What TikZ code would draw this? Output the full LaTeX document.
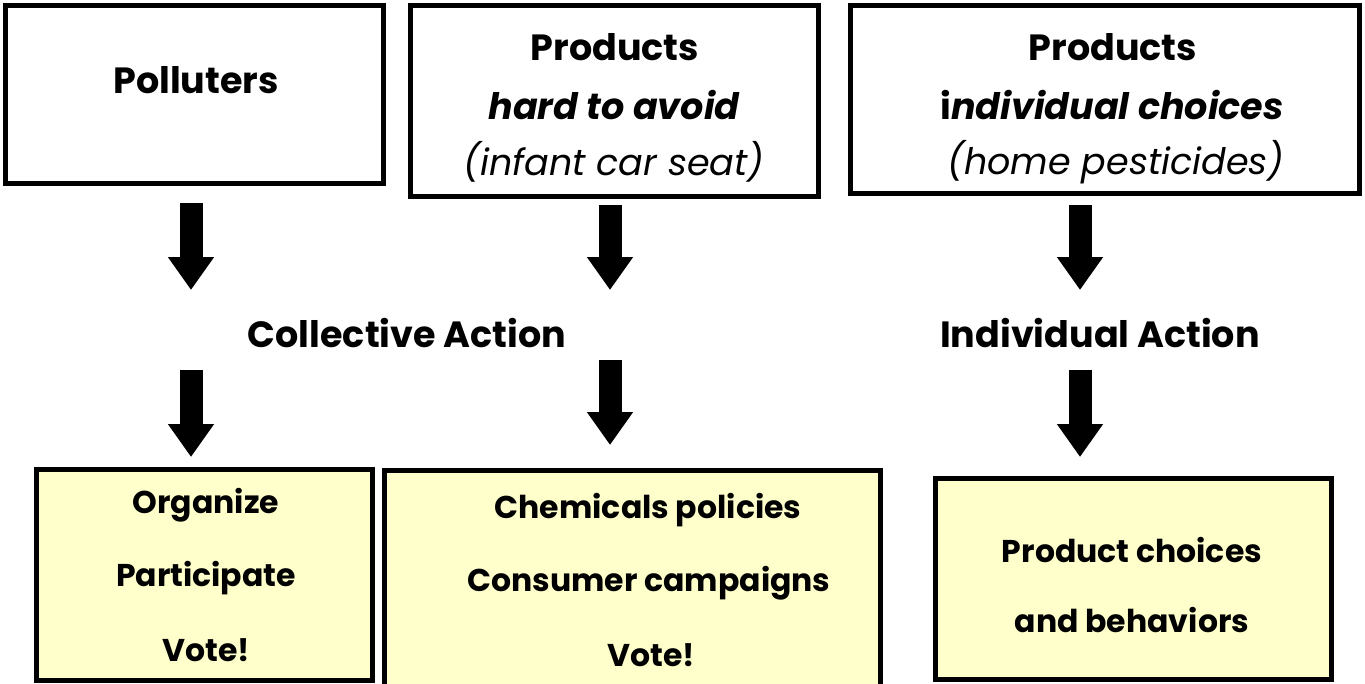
\documentclass[tikz,border=0pt]{standalone}
\usepackage{fontspec}
\setmainfont{Poppins}
\usetikzlibrary{arrows.meta}
\definecolor{paleyellow}{HTML}{FFFFCC}
\tikzset{
  topbox/.style={draw=black, line width=5pt, fill=white, inner sep=0pt},
  botbox/.style={draw=black, line width=5pt, fill=paleyellow, inner sep=0pt},
  bigtxt/.style={font=\fontsize{36.5}{40}\selectfont\bfseries, inner sep=0pt, anchor=center},
  boxtxt/.style={font=\fontsize{36.5}{40}\selectfont\itshape, inner sep=0pt, anchor=center},
  bottxt/.style={font=\fontsize{31.5}{36}\selectfont\bfseries, inner sep=0pt, anchor=center},
  blockarrow/.style={line width=23pt, -{Triangle[width=44pt,length=33pt]}}
}
\begin{document}
\begin{tikzpicture}[x=1pt,y=-1pt]
\useasboundingbox (0,0) rectangle (1365,683);
\begin{scope}
\clip (0,0) rectangle (1365,683);
% top boxes
\node[topbox, minimum width=378pt, minimum height=178pt] (polluters) at (194.5,94.5) {};
\node[topbox, minimum width=408pt, minimum height=191pt] (hard) at (614.5,101) {};
\node[topbox, minimum width=509pt, minimum height=188pt] (indiv) at (1105,99.5) {};
% bottom boxes
\node[botbox, minimum width=336pt, minimum height=211pt] (org) at (204.5,575) {};
\node[botbox, minimum width=496pt, minimum height=230pt] (chem) at (632.5,585.5) {};
\node[botbox, minimum width=396pt, minimum height=201pt] (prod) at (1133.5,579) {};
\end{scope}
% top texts
\node[bigtxt] (t1) at (196,80) {Polluters};
\node[bigtxt] (t2a) at (615,47) {Products};
\node[bigtxt] (t2b) at (614,105) {\itshape hard to avoid};
\node[boxtxt] (t2c) at (614,162) {(infant car seat)};
\node[bigtxt] (t3a) at (1113,47) {Products};
\node[bigtxt] (t3b) at (1112,105) {i\textit{ndividual choices}};
\node[boxtxt] (t3c) at (1116,162) {(home pesticides)};
% middle labels
\node[bigtxt] (coll) at (407,333) {Collective Action};
\node[bigtxt] (indact) at (1100,333) {Individual Action};
% bottom texts
\node[bottxt] (b1a) at (206,505) {Organize};
\node[bottxt] (b1b) at (206,578) {Participate};
\node[bottxt] (b1c) at (206,650) {Vote!};
\node[bottxt] (b2a) at (648,510) {Chemicals policies};
\node[bottxt] (b2b) at (649,583) {Consumer campaigns};
\node[bottxt] (b2c) at (651,655) {Vote!};
\node[bottxt] (b3a) at (1132,550) {Product choices};
\node[bottxt] (b3b) at (1132,620) {and behaviors};
% arrows
\coordinate (a1s) at (191,203); \coordinate (a1e) at (191,290);
\coordinate (a2s) at (610,205); \coordinate (a2e) at (610,290);
\coordinate (a3s) at (1080,205); \coordinate (a3e) at (1080,290);
\coordinate (a4s) at (191,370); \coordinate (a4e) at (191,457);
\coordinate (a5s) at (610,360); \coordinate (a5e) at (610,445);
\coordinate (a6s) at (1080,370); \coordinate (a6e) at (1080,457);
\draw[blockarrow] (a1s) -- (a1e);
\draw[blockarrow] (a2s) -- (a2e);
\draw[blockarrow] (a3s) -- (a3e);
\draw[blockarrow] (a4s) -- (a4e);
\draw[blockarrow] (a5s) -- (a5e);
\draw[blockarrow] (a6s) -- (a6e);
\end{tikzpicture}
\end{document}
